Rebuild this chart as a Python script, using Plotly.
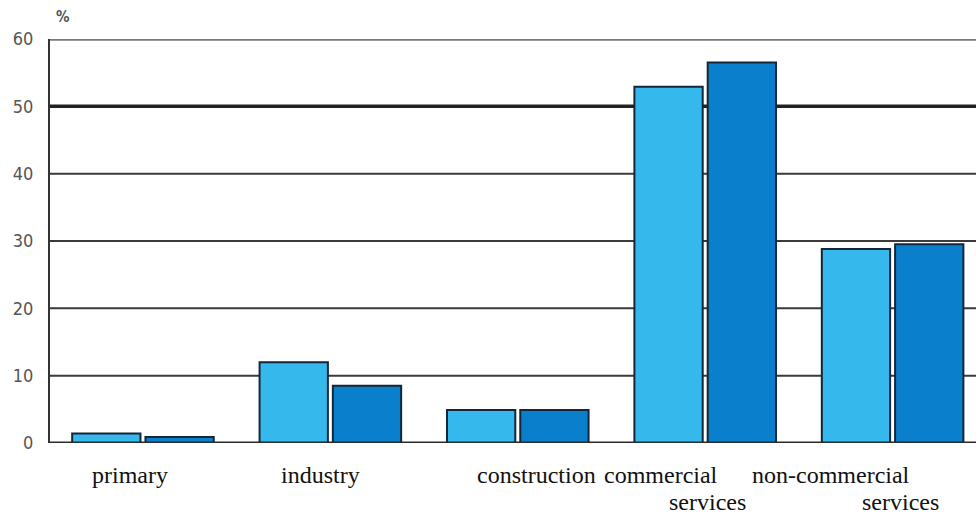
import plotly.graph_objects as go

categories = ["primary", "industry", "construction", "commercial services", "non-commercial services"]
label_line1 = ["primary", "industry", "construction", "commercial", "non-commercial"]
label_line2 = ["", "", "", "services", "services"]
series_a = [1.4, 12.0, 4.9, 52.9, 28.8]
series_b = [0.9, 8.5, 4.9, 56.5, 29.5]
y_ticks = [0, 10, 20, 30, 40, 50, 60]

xs = list(range(len(categories)))

# style: horizontal offsets (px) of category labels
shift1 = [-13, -10, 19, -44, -62]
shift2 = [0, 0, 0, 2, 8]

fig = go.Figure()
fig.add_trace(go.Bar(x=xs, y=series_a, marker=dict(color="#35b9ec", line=dict(color="#14263a", width=2)), showlegend=False))
fig.add_trace(go.Bar(x=xs, y=series_b, marker=dict(color="#0a80cc", line=dict(color="#14263a", width=2)), showlegend=False))

shapes = []
for v in y_ticks[1:]:
    w, c = 2, "#3a3a3a"
    if v == 50:
        w, c = 3.5, "#222222"
    if v == 60:
        w, c = 3.5, "#7a7a7a"
    shapes.append(dict(type="line", xref="paper", x0=0, x1=1, yref="y", y0=v, y1=v,
                       line=dict(color=c, width=w), layer="below"))
shapes.append(dict(type="line", xref="paper", x0=0, x1=1, yref="y", y0=0, y1=0,
                   line=dict(color="#2a2a2a", width=3), layer="above"))

label_font = dict(family="Liberation Serif, Times New Roman, serif", size=24, color="#111")
annotations = []
for i in xs:
    annotations.append(dict(x=i, y=0, xref="x", yref="paper", text=label_line1[i], showarrow=False,
                            xshift=shift1[i], yshift=-32, yanchor="middle", font=label_font))
    if label_line2[i]:
        annotations.append(dict(x=i, y=0, xref="x", yref="paper", text=label_line2[i], showarrow=False,
                                xshift=shift2[i], yshift=-59, yanchor="middle", font=label_font))
annotations.append(dict(x=0, y=1, xref="paper", yref="paper", text="<b>%</b>", showarrow=False,
                        xanchor="center", yanchor="middle", xshift=13, yshift=22,
                        font=dict(family="DejaVu Sans Condensed, sans-serif", size=15, color="#555")))

fig.update_layout(
    width=976, height=515,
    margin=dict(l=50, r=0, t=39, b=71.5),
    paper_bgcolor="white", plot_bgcolor="white",
    barmode="group", bargap=0.218, bargroupgap=0.068,
    shapes=shapes, annotations=annotations,
    xaxis=dict(range=[-0.496, 4.445], showticklabels=False, showgrid=False, zeroline=False,
               showline=False, ticks=""),
    yaxis=dict(range=[0, 60], tickvals=y_ticks, showgrid=False, zeroline=False,
               showline=True, linecolor="#333", linewidth=2, ticks="", ticklabelstandoff=11,
               tickfont=dict(family="DejaVu Sans Condensed, Liberation Sans Narrow, sans-serif", size=18, color="#555")),
)

fig.write_html("out.html", config={"displayModeBar": False},
               post_script="document.body.style.margin='0';document.body.style.overflow='hidden';")
